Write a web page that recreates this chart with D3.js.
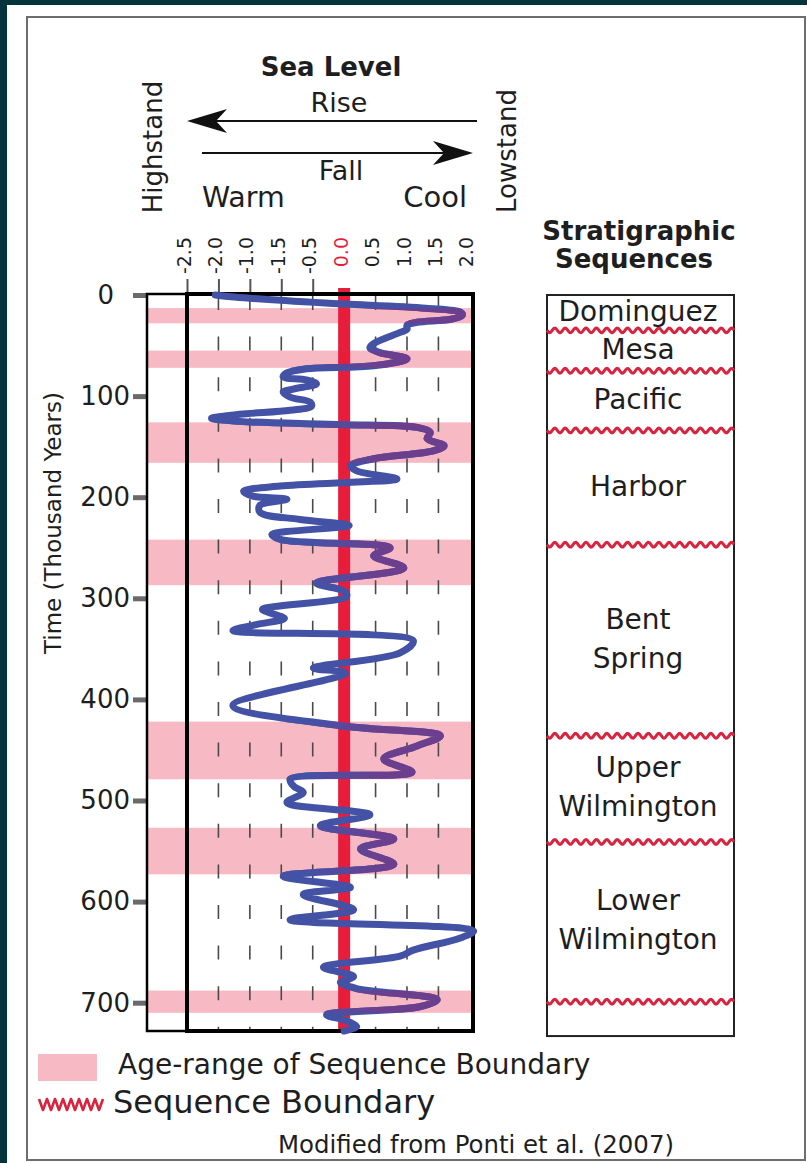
<!DOCTYPE html>
<html>
<head>
<meta charset="utf-8">
<script src="https://cdn.jsdelivr.net/npm/d3@7"></script>
<style>
  html, body { margin: 0; padding: 0; background: #05343f; }
  svg { display: block; }
  text { font-family: "DejaVu Sans", sans-serif; fill: #1e1e1e; }
</style>
</head>
<body>
<div id="chart"></div>
<script>
// sea level / temperature curve (age in thousand years)
const ageKy = [0, 2, 8, 13, 17, 20, 24, 27, 30, 34, 37, 48, 52, 57, 63, 70, 73, 77, 81, 84,
  88, 93, 96, 101, 106, 110, 114, 118, 122, 125, 128, 131, 136, 142, 149, 154, 162, 169, 174, 182,
  185, 189, 194, 199, 202, 208, 215, 222, 228, 237, 242, 250, 258, 270, 285, 293, 298, 311, 316, 320,
  326, 332, 342, 354, 369, 374, 406, 426, 436, 446, 459, 472, 479, 486, 492, 502, 514, 525, 538, 548,
  563, 575, 586, 593, 608, 618, 629, 636, 648, 654, 665, 674, 680, 686, 697, 704, 712, 718, 724, 728];
const seaLevel = [-2.05, -1.75, -0.3, 1.3, 1.85, 1.88, 1.7, 1.16, 1.0, 1.0, 0.89, 0.47, 0.41, 0.57, 1.0, 0.47, -0.6, -0.91, -0.97, -0.6,
  -0.44, -0.81, -0.97, -0.86, -0.54, -0.52, -0.86, -1.66, -2.11, -1.66, -0.06, 1.16, 1.37, 1.32, 1.59, 1.43, 0.47, 0.1, 0.2, 0.84,
  0.2, -1.02, -1.6, -1.45, -0.91, -1.34, -1.34, -0.7, 0.08, -1.15, -1.0, 0.73, 0.47, 0.95, -0.44, 0.0, 0.04, -1.3, -1.1, -0.95,
  -1.4, -1.77, 1.1, 0.89, -0.49, 0.02, -1.77, -0.06, 1.53, 1.16, 0.63, 1.08, -0.86, -0.8, -0.65, -0.91, 0.41, -0.38, 0.79, 0.26,
  0.79, -0.97, 0.1, -0.65, 0.15, -0.86, 2.06, 1.85, 1.1, 0.89, -0.33, 0.15, -0.06, 0.2, 1.48, 1.2, -0.28, 0.04, 0.2, 0.0];

// age-range of sequence boundaries (pink bands)
const bandStart = [13, 55, 126, 242, 422, 527, 688];
const bandEnd = [28, 72, 166, 287, 479, 573, 710];

// sequence boundaries and the sequences between them
const boundaryKy = [35, 75, 134, 247, 436, 541, 699];
const sequenceNames = [['Dominguez'], ['Mesa'], ['Pacific'], ['Harbor'], ['Bent', 'Spring'],
  ['Upper', 'Wilmington'], ['Lower', 'Wilmington']];

const xTicks = [-2.5, -2, -1.5, -1, -0.5, 0, 0.5, 1, 1.5, 2];
const xTickLabels = ['-2.5', '-2.0', '-1.0', '-1.5', '-0.5', '0.0', '0.5', '1.0', '1.5', '2.0'];
const yTicks = [0, 100, 200, 300, 400, 500, 600, 700];

const width = 807;
const height = 1163;
const blue = '#4452a6';
const purple = '#6c3f8e';
const red = '#e81d3b';
const pink = '#f7b9c4';

const svg = d3.select('#chart')
  .append('svg')
  .attr('width', width)
  .attr('height', height);

// white page with grey frame
svg.append('rect').attr('x', 7).attr('y', 5).attr('width', 800).attr('height', 1158).attr('fill', '#fff');
svg.append('rect').attr('x', 27).attr('y', 17).attr('width', 778).attr('height', 1143)
  .attr('fill', 'none').attr('stroke', '#6d6d6d').attr('stroke-width', 2);

const x = d3.scaleLinear().domain([-2.5, 2.05]).range([187, 473]);
const y = d3.scaleLinear().domain([0, 728]).range([295, 1031]);
const leftEdge = 147;

// ---- bands ----
const bands = d3.range(bandStart.length).map(i => ({ start: bandStart[i], end: bandEnd[i] }));

svg.append('g')
  .selectAll('rect')
  .data(bands)
  .join('rect')
  .attr('x', leftEdge)
  .attr('y', d => y(d.start))
  .attr('width', x(2.05) - leftEdge)
  .attr('height', d => y(d.end) - y(d.start))
  .attr('fill', pink);

// ---- dashed grid ----
svg.append('g')
  .selectAll('line')
  .data(xTicks.filter(v => v > -2.5 && v < 2 && v !== 0))
  .join('line')
  .attr('x1', d => x(d)).attr('x2', d => x(d))
  .attr('y1', y(0) + 1).attr('y2', y(728))
  .attr('stroke', '#4a4a4a')
  .attr('stroke-width', 1.6)
  .attr('stroke-dasharray', '14 26.6');

// zero line
svg.append('line')
  .attr('x1', x(0)).attr('x2', x(0))
  .attr('y1', 288).attr('y2', y(728))
  .attr('stroke', red)
  .attr('stroke-width', 12);

// ---- x axis (top, rotated labels) ----
const xAxis = svg.append('g')
  .attr('transform', `translate(0, ${y(0) - 2})`)
  .call(d3.axisTop(x).tickValues(xTicks).tickSize(14).tickFormat((d, i) => xTickLabels[i]));

xAxis.select('.domain').remove();
xAxis.selectAll('.tick line')
  .attr('stroke', d => d === 0 ? red : '#555')
  .attr('stroke-width', d => d === 0 ? 0 : 2)
  .attr('opacity', d => d > 0 ? 0 : 1);
xAxis.selectAll('.tick text')
  .attr('transform', 'rotate(-90)')
  .attr('x', 56)
  .attr('y', 3)
  .attr('dy', 0)
  .attr('text-anchor', 'end')
  .attr('font-size', 19)
  .attr('font-family', '"DejaVu Sans", sans-serif')
  .style('fill', d => d === 0 ? red : '#1e1e1e');

// ---- y axis ----
const yAxis = svg.append('g')
  .attr('transform', `translate(${leftEdge}, 0)`)
  .call(d3.axisLeft(y).tickValues(yTicks).tickSize(14).tickSizeOuter(0).tickPadding(3));

yAxis.select('.domain').remove();
yAxis.selectAll('.tick line').attr('stroke', '#6a6a6a').attr('stroke-width', 5);
yAxis.selectAll('.tick text')
  .attr('font-size', 26)
  .attr('font-family', '"DejaVu Sans", sans-serif')
  .attr('dx', d => d === 0 ? -16 : 0)
  .style('fill', '#1e1e1e');

svg.append('text')
  .attr('transform', `translate(61, 523) rotate(-90)`)
  .attr('text-anchor', 'middle')
  .attr('font-size', 23)
  .text('Time (Thousand Years)');

// ---- boxes ----
svg.append('rect')
  .attr('x', leftEdge).attr('y', y(0) - 1)
  .attr('width', x(-2.5) - leftEdge).attr('height', y(728) - y(0) + 1)
  .attr('fill', 'none').attr('stroke', '#000').attr('stroke-width', 2.5);

svg.append('rect')
  .attr('x', x(-2.5)).attr('y', y(0) - 1)
  .attr('width', x(2.05) - x(-2.5)).attr('height', y(728) - y(0) + 1)
  .attr('fill', 'none').attr('stroke', '#000').attr('stroke-width', 4);

// ---- curve ----
const points = ageKy.map((t, i) => ({ t, v: seaLevel[i] }));
const line = d3.line()
  .x(d => x(d.v))
  .y(d => y(d.t))
  .curve(d3.curveCatmullRom.alpha(0.5));

const defs = svg.append('defs');
const grad = defs.append('linearGradient')
  .attr('id', 'warmCool')
  .attr('gradientUnits', 'userSpaceOnUse')
  .attr('x1', x(-0.6)).attr('x2', x(0.6))
  .attr('y1', 0).attr('y2', 0);
grad.append('stop').attr('offset', 0).attr('stop-color', blue);
grad.append('stop').attr('offset', 1).attr('stop-color', purple);

defs.append('clipPath')
  .attr('id', 'bandClip')
  .selectAll('rect')
  .data(bands)
  .join('rect')
  .attr('x', 0)
  .attr('y', d => y(d.start))
  .attr('width', width)
  .attr('height', d => y(d.end) - y(d.start));

svg.append('path')
  .datum(points)
  .attr('d', line)
  .attr('fill', 'none')
  .attr('stroke', blue)
  .attr('stroke-width', 7)
  .attr('stroke-linejoin', 'round')
  .attr('stroke-linecap', 'round');

svg.append('path')
  .datum(points)
  .attr('d', line)
  .attr('clip-path', 'url(#bandClip)')
  .attr('fill', 'none')
  .attr('stroke', 'url(#warmCool)')
  .attr('stroke-width', 7)
  .attr('stroke-linejoin', 'round')
  .attr('stroke-linecap', 'round');

// ---- header ----
const header = svg.append('g');
header.append('text').attr('x', 331).attr('y', 76).attr('text-anchor', 'middle')
  .attr('font-size', 26).attr('font-weight', 'bold').text('Sea Level');
header.append('text').attr('x', 339).attr('y', 112).attr('text-anchor', 'middle')
  .attr('font-size', 27).text('Rise');
header.append('text').attr('x', 341).attr('y', 180).attr('text-anchor', 'middle')
  .attr('font-size', 27).text('Fall');
header.append('text').attr('x', 202).attr('y', 207)
  .attr('font-size', 28.5).text('Warm');
header.append('text').attr('x', 467).attr('y', 207).attr('text-anchor', 'end')
  .attr('font-size', 29).text('Cool');
header.append('text').attr('transform', 'translate(162, 147) rotate(-90)')
  .attr('text-anchor', 'middle').attr('font-size', 26).text('Highstand');
header.append('text').attr('transform', 'translate(516, 151) rotate(-90)')
  .attr('text-anchor', 'middle').attr('font-size', 26).text('Lowstand');

// arrows with barbed heads
function arrow(x0, x1, yy) {
  const dir = Math.sign(x1 - x0);
  header.append('line')
    .attr('x1', x0).attr('x2', x1 - dir * 12)
    .attr('y1', yy).attr('y2', yy)
    .attr('stroke', '#111').attr('stroke-width', 2);
  const head = [[x1, yy], [x1 - dir * 40, yy - 12], [x1 - dir * 29, yy], [x1 - dir * 40, yy + 12]];
  header.append('path')
    .attr('d', 'M' + head.join('L') + 'Z')
    .attr('fill', '#111');
}
arrow(477, 187, 121);
arrow(202, 473, 153);

// ---- stratigraphic sequences column ----
const strat = svg.append('g');
strat.append('text').attr('x', 639).attr('y', 240).attr('text-anchor', 'middle')
  .attr('font-size', 26).attr('font-weight', 'bold').text('Stratigraphic');
strat.append('text').attr('x', 634).attr('y', 268).attr('text-anchor', 'middle')
  .attr('font-size', 26).attr('font-weight', 'bold').text('Sequences');

const stratLeft = 547;
const stratRight = 734;
strat.append('rect')
  .attr('x', stratLeft).attr('y', y(0))
  .attr('width', stratRight - stratLeft).attr('height', y(733) - y(0))
  .attr('fill', 'none').attr('stroke', '#222').attr('stroke-width', 2);

function wave(x0, x1, yc, period, amp) {
  const pts = d3.range(x0, x1 + 0.5, 1).map(px => [px, yc + amp * Math.sin(2 * Math.PI * (px - x0) / period)]);
  return d3.line()(pts);
}

strat.append('g')
  .selectAll('path')
  .data(boundaryKy)
  .join('path')
  .attr('d', d => wave(stratLeft, stratRight, y(d), 10.4, 2.4))
  .attr('fill', 'none')
  .attr('stroke', '#d8243f')
  .attr('stroke-width', 3);

const edges = [0, ...boundaryKy];
const labels = sequenceNames.flatMap((lines, i) => {
  const mid = (edges[i] + edges[i + 1]) / 2;
  return lines.map((name, j) => ({ name, mid, offset: (j - (lines.length - 1) / 2) * 39 }));
});

strat.append('g')
  .selectAll('text')
  .data(labels)
  .join('text')
  .attr('x', 638)
  .attr('y', d => y(d.mid) + 8 + d.offset)
  .attr('text-anchor', 'middle')
  .attr('font-size', 28)
  .text(d => d.name);

// ---- legend ----
const legend = svg.append('g');
legend.append('rect').attr('x', 38).attr('y', 1054).attr('width', 59).attr('height', 27).attr('fill', pink);
legend.append('text').attr('x', 118).attr('y', 1074).attr('font-size', 28).text('Age-range of Sequence Boundary');

const zig = d3.range(17).map(i => [39 + i * 4, i % 2 === 0 ? 1099 : 1110]);
legend.append('path')
  .attr('d', d3.line()(zig))
  .attr('fill', 'none')
  .attr('stroke', '#d8243f')
  .attr('stroke-width', 2.6)
  .attr('stroke-linejoin', 'round');
legend.append('text').attr('x', 113).attr('y', 1113).attr('font-size', 32).text('Sequence Boundary');

legend.append('text').attr('x', 278).attr('y', 1153).attr('font-size', 24)
  .attr('textLength', 396).attr('lengthAdjust', 'spacingAndGlyphs')
  .text('Modified from Ponti et al. (2007)');
</script>
</body>
</html>
